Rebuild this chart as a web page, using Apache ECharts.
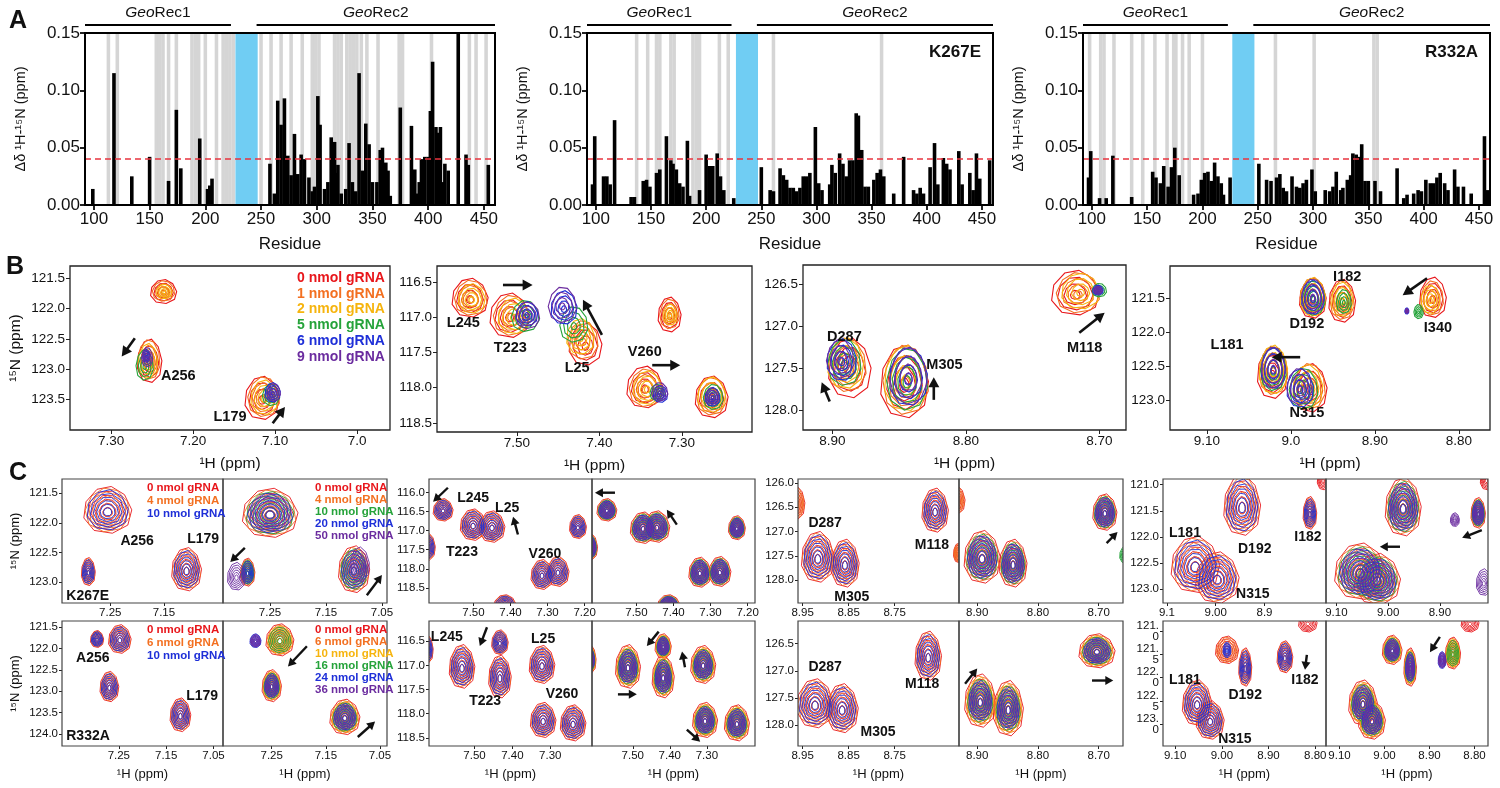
<!DOCTYPE html>
<html>
<head>
<meta charset="utf-8">
<title>GeoCas9 gRNA titration HSQC</title>
<script src="https://cdn.jsdelivr.net/npm/echarts@6/dist/echarts.min.js"></script>
<style>html,body{margin:0;background:#fff}#chart{width:1500px;height:788px}</style>
</head>
<body>
<div id="chart"></div>
<script>
// ---------- panel A : chemical shift perturbation per residue ----------
var residueTicks = ['100', '150', '200', '250', '300', '350', '400', '450'];
var shiftTicks = ['0.00', '0.05', '0.10', '0.15'];
var residueRange = [92, 460];
var loopBand = [227, 247];
var domains = [['Rec1', 92, 223], ['Rec2', 246, 460]];
var cutoffs = [0.043, 0.043, 0.041];
var mutantNames = ['', 'K267E', 'R332A'];

var wtShift = [[99,0.014],[118,0.115],[134,0.025],[150,0.042],[167,0.021],[174,0.083],[178,0.032],[195,0.058],[202,0.014],[204,0.017],[206,0.023],
  [258,0.036],[262,0.010],[265,0.091],[268,0.070],[271,0.093],[274,0.043],[277,0.026],[280,0.062],[283,0.027],[286,0.044],[289,0.040],[293,0.024],[296,0.012],[298,0.016],
  [301,0.095],[303,0.070],[307,0.014],[310,0.020],[313,0.059],[316,0.055],[317,0.028],[319,0.035],[322,0.010],[326,0.014],[329,0.054],[332,0.020],[335,0.012],
  [338,0.115],[341,0.030],[344,0.071],[347,0.053],[350,0.020],[354,0.020],[357,0.048],[359,0.050],[362,0.037],[364,0.030],[366,0.008],[375,0.085],[385,0.069],
  [388,0.031],[390,0.010],[392,0.020],[394,0.040],[397,0.042],[400,0.042],[402,0.082],[404,0.125],[407,0.068],[409,0.063],[411,0.068],[413,0.020],[415,0.036],
  [418,0.030],[427,0.150],[434,0.044],[436,0.035],[454,0.035]];
var wtMissing = [113,121,156,159,162,167,174,188,191,194,200,210,216,219,222,225,250,259,268,277,287,296,299,302,316,319,322,327,330,333,336,340,345,355,374,377,403,437,443,452];

var k267eShift = [[97,0.018],[99,0.060],[107,0.025],[110,0.025],[113,0.018],[117,0.074],[132,0.007],[135,0.007],[143,0.021],[146,0.022],[149,0.016],[155,0.028],
  [158,0.031],[164,0.060],[168,0.039],[170,0.036],[173,0.031],[176,0.019],[179,0.016],[183,0.056],[185,0.008],[194,0.013],[200,0.044],[203,0.034],[206,0.034],
  [210,0.045],[213,0.025],[216,0.013],[225,0.006],[250,0.033],[258,0.013],[261,0.012],[267,0.032],[270,0.026],[273,0.022],[276,0.015],[279,0.015],[282,0.012],
  [285,0.015],[288,0.025],[291,0.025],[294,0.028],[299,0.068],[302,0.019],[305,0.013],[312,0.018],[314,0.035],[317,0.028],[321,0.045],[324,0.036],[327,0.025],
  [330,0.039],[333,0.039],[336,0.080],[338,0.078],[341,0.048],[344,0.016],[347,0.016],[352,0.022],[355,0.028],[358,0.031],[361,0.025],[370,0.010],[379,0.042],
  [388,0.013],[391,0.010],[394,0.015],[397,0.010],[403,0.033],[407,0.054],[410,0.018],[415,0.041],[418,0.036],[421,0.031],[429,0.047],[432,0.018],[439,0.028],
  [442,0.013],[445,0.045],[448,0.023],[457,0.039]];
var k267eMissing = [137,147,155,158,168,171,188,191,194,212,220,261,359];

var r332aShift = [[97,0.024],[99,0.047],[107,0.006],[113,0.006],[119,0.043],[136,0.007],[155,0.029],[158,0.024],[162,0.019],[165,0.034],[169,0.016],[172,0.033],
  [175,0.050],[179,0.026],[192,0.009],[196,0.010],[199,0.022],[202,0.028],[205,0.029],[208,0.021],[211,0.037],[214,0.025],[217,0.019],[219,0.009],[225,0.024],
  [251,0.036],[258,0.022],[262,0.021],[267,0.024],[270,0.027],[273,0.015],[276,0.012],[281,0.025],[285,0.016],[288,0.015],[291,0.019],[294,0.022],[299,0.031],
  [302,0.012],[311,0.013],[315,0.012],[318,0.016],[321,0.029],[325,0.013],[327,0.015],[331,0.022],[334,0.026],[336,0.045],[339,0.044],[341,0.042],[344,0.053],
  [347,0.021],[350,0.021],[356,0.021],[361,0.012],[376,0.032],[382,0.006],[385,0.009],[391,0.010],[395,0.013],[398,0.012],[402,0.022],[406,0.019],[409,0.019],
  [412,0.024],[415,0.028],[419,0.019],[422,0.013],[428,0.031],[431,0.016],[436,0.016],[443,0.010],[455,0.060],[458,0.013]];
var r332aMissing = [98,108,111,120,136,146,157,168,174,176,182,188,200,266,301,355,358];

var aShifts = [wtShift, k267eShift, r332aShift];
var aMissing = [wtMissing, k267eMissing, r332aMissing];

// ---------- titration colours ----------
var RED = '#e8161b', ORG = '#f37021', YEL = '#f6b40e', GRN = '#25a33a', BLU = '#1e2fd8', PUR = '#6b2c9f';
var palettes = {p3: [RED, ORG, BLU], p5: [RED, ORG, GRN, BLU, PUR], p6: [RED, ORG, YEL, GRN, BLU, PUR]};
var bLegend = ['0 nmol gRNA', '1 nmol gRNA', '2 nmol gRNA', '5 nmol gRNA', '6 nmol gRNA', '9 nmol gRNA'];

// ---------- panel B : peaks [x ppm, y ppm, relative size] per titration point ----------
var b1 = {x: [6.96, 7.35], xt: ['7.30', '7.20', '7.10', '7.0'], y: [121.3, 124.0], yt: ['121.5', '122.0', '122.5', '123.0', '123.5'],
  peaks: [
    {r: [0.016, 0.2], at: [[7.236,121.72,1],[7.236,121.71,0.85],[7.235,121.72,0.6],null,null,null]},
    {r: [0.015, 0.36], at: [[7.253,122.86,1],[7.254,122.84,0.92],[7.255,122.86,0.8],[7.259,122.93,0.7],[7.257,122.78,0.3],[7.256,122.8,0.45]]},
    {r: [0.021, 0.36], at: [[7.116,123.47,1],[7.114,123.45,0.92],[7.113,123.46,0.8],[7.105,123.42,0.5],[7.103,123.38,0.45],[7.102,123.38,0.4]]}
  ],
  labels: [['A256', 7.218, 123.11], ['L179', 7.155, 123.79]],
  arrows: [[7.271,122.49,7.287,122.79], [7.103,123.89,7.088,123.62]]};

var b2 = {x: [7.215, 7.597], xt: ['7.50', '7.40', '7.30'], y: [116.27, 118.63], yt: ['116.5', '117.0', '117.5', '118.0', '118.5'],
  peaks: [
    {r: [0.022, 0.28], at: [[7.557,116.72,1],[7.556,116.72,0.9],[7.555,116.73,0.75],null,null,null]},
    {r: [0.024, 0.32], at: [[7.509,116.97,1],[7.507,116.97,0.9],[7.504,116.98,0.8],[7.490,116.98,0.7],[7.488,116.95,0.55],[7.487,116.97,0.6]]},
    {r: [0.02, 0.3], at: [[7.417,117.38,1],[7.420,117.32,0.92],[7.423,117.27,0.85],[7.431,117.10,0.85],[7.443,116.86,0.8],[7.445,116.82,0.85]]},
    {r: [0.014, 0.25], at: [[7.315,116.96,1],[7.315,116.95,0.85],[7.314,116.96,0.6],null,null,null]},
    {r: [0.022, 0.3], at: [[7.345,117.99,1],[7.344,118.0,0.9],[7.342,118.0,0.8],[7.330,118.07,0.4],[7.326,118.09,0.4],[7.327,118.06,0.45]]},
    {r: [0.02, 0.3], at: [[7.264,118.13,1],[7.264,118.12,0.9],[7.264,118.1,0.85],[7.262,118.13,0.6],[7.263,118.13,0.45],[7.263,118.12,0.4]]}
  ],
  labels: [['L245', 7.565, 117.08], ['T223', 7.508, 117.44], ['L25', 7.427, 117.72], ['V260', 7.345, 117.49]],
  arrows: [[7.517,116.54,7.481,116.54], [7.397,117.25,7.420,116.75], [7.336,117.68,7.302,117.68]]};

var b3 = {x: [8.68, 8.922], xt: ['8.90', '8.80', '8.70'], y: [126.27, 128.24], yt: ['126.5', '127.0', '127.5', '128.0'],
  peaks: [
    {r: [0.016, 0.36], at: [[8.887,127.5,1],[8.889,127.46,0.9],[8.890,127.44,0.85],[8.891,127.43,0.78],[8.893,127.40,0.7],[8.894,127.39,0.65]]},
    {r: [0.018, 0.44], at: [[8.846,127.66,1],[8.845,127.64,0.95],[8.845,127.62,0.9],[8.844,127.63,0.85],[8.843,127.6,0.8],[8.843,127.59,0.78]]},
    {r: [0.018, 0.27], at: [[8.718,126.60,1],[8.716,126.60,0.9],[8.714,126.58,0.8],[8.700,126.57,0.3],[8.701,126.57,0.22],[8.701,126.57,0.18]]}
  ],
  labels: [['D287', 8.891, 127.13], ['M305', 8.816, 127.46], ['M118', 8.711, 127.26]],
  arrows: [[8.902,127.90,8.908,127.67], [8.824,127.88,8.824,127.61], [8.715,127.08,8.696,126.84]]};

var b4 = {x: [8.763, 9.144], xt: ['9.10', '9.0', '8.90', '8.80'], y: [121.03, 123.44], yt: ['121.5', '122.0', '122.5', '123.0'],
  peaks: [
    {r: [0.016, 0.3], at: [[8.974,121.5,1],[8.974,121.49,0.95],[8.974,121.48,0.95],[8.973,121.5,0.85],[8.974,121.49,0.85],[8.974,121.47,0.85]]},
    {r: [0.016, 0.32], at: [[8.939,121.54,1],[8.939,121.53,0.9],[8.939,121.52,0.8],[8.937,121.55,0.55],null,null]},
    {r: [0.016, 0.3], at: [[8.831,121.49,1],[8.832,121.5,0.85],[8.834,121.52,0.7],[8.848,121.7,0.35],[8.862,121.69,0.15],[8.862,121.69,0.12]]},
    {r: [0.018, 0.38], at: [[9.022,122.6,1],[9.021,122.56,0.95],[9.021,122.55,0.95],[9.021,122.54,0.85],[9.021,122.53,0.8],[9.021,122.52,0.8]]},
    {r: [0.02, 0.36], at: [[8.977,122.82,1],[8.978,122.8,0.95],[8.980,122.80,0.9],[8.985,122.83,0.85],[8.989,122.82,0.8],[8.990,122.8,0.75]]}
  ],
  labels: [['I182', 8.933, 121.19], ['D192', 8.981, 121.88], ['I340', 8.825, 121.94], ['L181', 9.076, 122.19], ['N315', 8.981, 123.19]],
  arrows: [[8.838,121.21,8.867,121.46], [8.989,122.37,9.023,122.37]]};

var bPanels = [b1, b2, b3, b4];

// ---------- panel C : mutant titrations, peaks [x, y, rx, ry, colour subset] ----------
var cPanels = [
  {x: [7.04, 7.34], xt: ['7.25', '7.15'], y: [121.26, 123.35], yt: ['121.5', '122.0', '122.5', '123.0'], pal: 'p3',
   legend: ['0 nmol gRNA', '4 nmol gRNA', '10 nmol gRNA'],
   peaks: [[7.255,121.78,0.045,0.4],[7.291,122.82,0.013,0.24],[7.108,122.78,0.028,0.37]],
   labels: [['A256',7.20,122.31],['L179',7.077,122.27],['K267E',7.292,123.23]], arrows: []},
  {x: [7.041, 7.334], xt: ['7.25', '7.15', '7.05'], y: [121.26, 123.35], yt: null, pal: 'p5',
   legend: ['0 nmol gRNA', '4 nmol gRNA', '10 nmol gRNA', '20 nmol gRNA', '50 nmol gRNA'],
   peaks: [[7.25,121.83,0.05,0.42],[7.29,122.83,0.013,0.24,[0,1,2,3]],[7.31,122.9,0.022,0.32,[4]],[7.10,122.78,0.028,0.4,[0,1,2,3]],[7.09,122.7,0.024,0.4,[4]]],
   labels: [], arrows: [[7.295,122.42,7.321,122.66],[7.077,123.22,7.050,122.88]]},
  {x: [7.03, 7.37], xt: ['7.25', '7.15', '7.05'], y: [121.36, 124.28], yt: ['121.5', '122.0', '122.5', '123.0', '123.5', '124.0'], pal: 'p3',
   legend: ['0 nmol gRNA', '6 nmol gRNA', '10 nmol gRNA'],
   peaks: [[7.296,121.78,0.014,0.2],[7.248,121.78,0.024,0.34],[7.27,122.89,0.02,0.36],[7.12,123.55,0.022,0.4]],
   labels: [['A256',7.305,122.23],['L179',7.074,123.12],['R332A',7.315,124.04]], arrows: []},
  {x: [7.037, 7.34], xt: ['7.25', '7.15', '7.05'], y: [121.36, 124.28], yt: null, pal: 'p6',
   legend: ['0 nmol gRNA', '6 nmol gRNA', '10 nmol gRNA', '16 nmol gRNA', '24 nmol gRNA', '36 nmol gRNA'],
   peaks: [[7.28,121.82,0.014,0.22,[4,5]],[7.235,121.8,0.026,0.38,[0,1,2,3]],[7.25,122.87,0.018,0.38],[7.115,123.6,0.028,0.42]],
   labels: [], arrows: [[7.185,121.95,7.22,122.42],[7.091,124.07,7.059,123.71]]},

  {x: [7.18, 7.62], xt: ['7.50', '7.40', '7.30', '7.20'], y: [115.64, 118.9], yt: ['116.0', '116.5', '117.0', '117.5', '118.0', '118.5'], pal: 'p3',
   peaks: [[7.582,116.45,0.027,0.3],[7.501,116.84,0.035,0.42],[7.45,116.89,0.035,0.42],[7.218,116.89,0.023,0.32],[7.315,118.15,0.03,0.4],[7.272,118.07,0.03,0.4],[7.415,118.93,0.03,0.25],[7.623,117.42,0.02,0.36]],
   labels: [['L245',7.501,116.14],['L25',7.409,116.40],['T223',7.531,117.57],['V260',7.307,117.62]],
   arrows: [[7.569,115.87,7.609,116.24],[7.38,117.10,7.393,116.63]]},
  {x: [7.18, 7.62], xt: ['7.50', '7.40', '7.30', '7.20'], y: [115.64, 118.9], yt: null, pal: 'p5',
   peaks: [[7.58,116.45,0.027,0.3],[7.482,116.92,0.035,0.42],[7.445,116.89,0.035,0.42],[7.229,116.92,0.023,0.32],[7.329,118.09,0.03,0.4],[7.275,118.07,0.03,0.4],[7.413,118.93,0.03,0.25],[7.625,117.42,0.02,0.36]],
   labels: [], arrows: [[7.558,116.0,7.612,116.0],[7.391,116.84,7.418,116.45]]},
  {x: [7.19, 7.62], xt: ['7.50', '7.40', '7.30'], y: [116.08, 118.67], yt: ['116.5', '117.0', '117.5', '118.0', '118.5'], pal: 'p3',
   peaks: [[7.533,117.02,0.034,0.46],[7.433,116.52,0.022,0.26],[7.433,117.23,0.03,0.45],[7.322,116.98,0.034,0.4],[7.319,118.13,0.034,0.37],[7.24,118.19,0.034,0.38],[7.625,116.66,0.016,0.3]],
   labels: [['L245',7.573,116.41],['L25',7.319,116.46],['T223',7.472,117.75],['V260',7.269,117.6]],
   arrows: [[7.467,116.21,7.486,116.6]]},
  {x: [7.17, 7.61], xt: ['7.50', '7.40', '7.30'], y: [116.08, 118.67], yt: null, pal: 'p6',
   peaks: [[7.513,117.02,0.034,0.46],[7.418,116.6,0.022,0.26],[7.418,117.23,0.03,0.45],[7.31,116.98,0.034,0.4],[7.305,118.13,0.034,0.37],[7.219,118.19,0.034,0.38],[7.615,116.87,0.016,0.3]],
   labels: [], arrows: [[7.43,116.3,7.462,116.6],[7.359,117.04,7.367,116.71],[7.54,117.6,7.489,117.6],[7.354,118.33,7.318,118.58]]},

  {x: [8.61, 8.96], xt: ['8.95', '8.85', '8.75'], y: [125.92, 128.47], yt: ['126.0', '126.5', '127.0', '127.5', '128.0'], pal: 'p3',
   peaks: [[8.917,127.52,0.036,0.53],[8.858,127.65,0.031,0.5],[8.662,126.56,0.029,0.46],[8.965,126.41,0.02,0.35,[0,1]],[8.612,127.44,0.01,0.2,[0,1]]],
   labels: [['D287',8.901,126.83],['M305',8.843,128.35],['M118',8.669,127.28]], arrows: []},
  {x: [8.66, 8.93], xt: ['8.90', '8.80', '8.70'], y: [125.92, 128.47], yt: null, pal: 'p5',
   peaks: [[8.892,127.52,0.03,0.55],[8.841,127.65,0.023,0.5],[8.69,126.6,0.02,0.38],[8.935,126.35,0.015,0.3,[0,1]],[8.657,127.48,0.01,0.2,[2]]],
   labels: [], arrows: [[8.687,127.24,8.669,127.01]]},
  {x: [8.61, 8.96], xt: ['8.95', '8.85', '8.75'], y: [126.08, 128.39], yt: ['126.5', '127.0', '127.5', '128.0'], pal: 'p3',
   peaks: [[8.923,127.6,0.04,0.46],[8.864,127.69,0.035,0.46],[8.677,126.72,0.029,0.46]],
   labels: [['D287',8.901,126.94],['M305',8.786,128.13],['M118',8.69,127.24]], arrows: []},
  {x: [8.66, 8.93], xt: ['8.90', '8.80', '8.70'], y: [126.08, 128.39], yt: null, pal: 'p6',
   peaks: [[8.895,127.55,0.026,0.5],[8.849,127.69,0.025,0.52],[8.703,126.63,0.03,0.32]],
   labels: [], arrows: [[8.92,127.24,8.9,126.96],[8.711,127.18,8.676,127.18]]},

  {x: [8.774, 9.108], xt: ['9.1', '9.00', '8.9'], y: [120.89, 123.27], yt: ['121.0', '121.5', '122.0', '122.5', '123.0'], pal: 'p3',
   peaks: [[8.946,121.39,0.038,0.59],[8.807,121.54,0.014,0.32],[9.042,122.53,0.05,0.55],[8.997,122.78,0.045,0.5],[8.78,120.9,0.012,0.2,[0]]],
   labels: [['L181',9.063,121.92],['D192',8.92,122.24],['I182',8.811,122.01],['N315',8.924,123.1]], arrows: []},
  {x: [8.807, 9.12], xt: ['9.10', '9.00', '8.90'], y: [120.89, 123.27], yt: null, pal: 'p5',
   peaks: [[8.971,121.42,0.035,0.57],[8.826,121.54,0.014,0.3],[8.871,121.67,0.012,0.18,[4]],[9.054,122.66,0.05,0.55],[9.021,122.81,0.045,0.5],[8.815,122.87,0.02,0.35,[4]],[8.81,120.9,0.012,0.2,[0]]],
   labels: [], arrows: [[8.977,122.19,9.016,122.19],[8.819,121.87,8.857,122.02]]},
  {x: [8.777, 9.126], xt: ['9.10', '9.00', '8.90', '8.80'], y: [120.78, 123.47], yt: ['121.\n0', '121.\n5', '122.\n0', '122.\n5', '123.\n0'], pal: 'p3',
   peaks: [[8.989,121.4,0.025,0.3,[0,1]],[8.989,121.4,0.01,0.2,[2]],[8.95,121.77,0.014,0.42],[8.865,121.55,0.017,0.35],[9.053,122.54,0.032,0.5],[9.025,122.91,0.03,0.42],[8.816,120.82,0.02,0.2,[0]]],
   labels: [['L181',9.079,122.05],['D192',8.95,122.37],['I182',8.822,122.05],['N315',8.972,123.32]], arrows: [[8.818,121.51,8.822,121.83]]},
  {x: [8.77, 9.13], xt: ['9.10', '9.00', '8.90', '8.80'], y: [120.78, 123.47], yt: null, pal: 'p6',
   peaks: [[8.983,121.4,0.022,0.32],[8.943,121.77,0.014,0.42],[8.872,121.62,0.012,0.25,[4,5]],[8.848,121.47,0.017,0.35,[0,1,2,3]],[8.81,120.82,0.02,0.2,[0]],[9.048,122.54,0.032,0.5],[9.028,122.91,0.03,0.42]],
   labels: [], arrows: [[8.877,121.12,8.899,121.45]]}
];

// ---------- layout (pixels) ----------
var FONT = '"Liberation Sans", Arial, "Noto Sans", sans-serif';
var HX = '¹H (ppm)', NY = '¹⁵N (ppm)';
var aBoxes = [[85, 33, 410, 172], [587, 33, 406, 172], [1083, 33, 407, 172]];
var bBoxes = [[70, 266, 320, 164], [437, 266, 315, 166], [803, 265, 323, 165], [1170, 266, 320, 164]];
var cLeft = [[62, 223], [429, 592], [798, 959], [1163, 1326]];
var cWidth = [[161, 164], [163, 163], [161, 164], [163, 162]];
var cTop = [479, 621], cHeight = [124, 125];
var colourSteps = [1, 0.93, 0.86, 0.8, 0.74, 0.68];

var grids = [], xAxes = [], yAxes = [], series = [], graphics = [];

function addGrid(b) {
  grids.push({left: b[0], top: b[1], width: b[2], height: b[3], containLabel: false, outerBoundsMode: 'none'});
  return grids.length - 1;
}

function makeAxis(gi, range, ticks, o) {
  var t = ticks || [];
  var vals = t.map(function (s) { return Number(s.replace('\n', '')); });
  return {
    type: 'value', gridIndex: gi, min: range[0], max: range[1], inverse: !!o.inverse,
    axisLine: {show: false}, splitLine: {show: false}, minorTick: {show: false},
    axisTick: {show: !!ticks, inside: false, length: o.tick || 4, customValues: vals,
      lineStyle: {color: '#222', width: o.tickW || 1}},
    axisLabel: {show: !!ticks, customValues: vals, fontSize: o.fs, color: '#111', fontFamily: FONT,
      margin: o.margin || 5, lineHeight: o.lh || o.fs,
      formatter: function (v) {
        for (var i = 0; i < vals.length; i++) if (Math.abs(vals[i] - v) < 1e-6) return t[i];
        return '';
      }},
    name: o.name || '', nameLocation: 'middle', nameGap: o.gap || 20,
    nameTextStyle: {fontSize: o.nfs || o.fs, color: '#111', fontFamily: FONT}
  };
}

function frameSeries(gi, lw, col) {
  return {type: 'custom', xAxisIndex: gi, yAxisIndex: gi, silent: true, z: 20, data: [[0, 0]],
    renderItem: function (params) {
      var cs = params.coordSys;
      return {type: 'rect', shape: {x: cs.x, y: cs.y, width: cs.width, height: cs.height},
        style: {fill: 'none', stroke: col, lineWidth: lw}};
    }};
}

function ringPoints(cx, cy, rx, ry, tilt) {
  var pts = [], n = 9;
  for (var j = 0; j < n; j++) {
    var t = 2 * Math.PI * j / n + tilt;
    var bulge = 1 + 0.14 * Math.sin(t);
    pts.push([cx + rx * Math.cos(t) * bulge, cy + ry * Math.sin(t)]);
  }
  return pts;
}

function contourSeries(gi, items, pal, levels, lw) {
  items.sort(function (a, b) { return a.ci - b.ci; });
  return {type: 'custom', xAxisIndex: gi, yAxisIndex: gi, silent: true, clip: true, z: 5,
    data: items.map(function (d) { return [d.x, d.y]; }),
    renderItem: function (params, api) {
      var d = items[params.dataIndex];
      var c = api.coord([d.x, d.y]);
      var s = api.size([d.rx, d.ry]);
      var rx = Math.abs(s[0]), ry = Math.abs(s[1]);
      var kids = [];
      for (var k = 0; k < levels; k++) {
        var f = 1 - k * 0.8 / (levels - 1);
        kids.push({type: 'polygon',
          shape: {points: ringPoints(c[0], c[1] + (1 - f) * ry * 0.12, rx * f, ry * f, d.ci * 0.33 + k * 0.1)},
          style: {fill: 'none', stroke: pal[d.ci], lineWidth: lw}});
      }
      var cs = params.coordSys;
      return {type: 'group', children: kids,
        clipPath: {type: 'rect', shape: {x: cs.x, y: cs.y, width: cs.width, height: cs.height}}};
    }};
}

function labelSeries(gi, labels, fs) {
  return {type: 'custom', xAxisIndex: gi, yAxisIndex: gi, silent: true, z: 15,
    data: labels.map(function (l) { return [l[1], l[2]]; }),
    renderItem: function (params, api) {
      var l = labels[params.dataIndex];
      var p = api.coord([l[1], l[2]]);
      return {type: 'text', x: p[0], y: p[1],
        style: {text: l[0], fill: '#111', fontSize: fs, fontWeight: 'bold', fontFamily: FONT,
          align: 'center', verticalAlign: 'middle', textAlign: 'center', textVerticalAlign: 'middle'}};
    }};
}

function arrowSeries(gi, arrows, lw, head, half) {
  return {type: 'custom', xAxisIndex: gi, yAxisIndex: gi, silent: true, z: 16,
    data: arrows.map(function (a) { return [a[0], a[1]]; }),
    renderItem: function (params, api) {
      var a = arrows[params.dataIndex];
      var p1 = api.coord([a[0], a[1]]), p2 = api.coord([a[2], a[3]]);
      var dx = p2[0] - p1[0], dy = p2[1] - p1[1], L = Math.sqrt(dx * dx + dy * dy) || 1;
      var ux = dx / L, uy = dy / L, bx = p2[0] - ux * head, by = p2[1] - uy * head;
      return {type: 'group', children: [
        {type: 'line', shape: {x1: p1[0], y1: p1[1], x2: bx + ux, y2: by + uy}, style: {stroke: '#111', lineWidth: lw}},
        {type: 'polygon', shape: {points: [[p2[0], p2[1]], [bx - uy * half, by + ux * half], [bx + uy * half, by - ux * half]]},
          style: {fill: '#111'}}
      ]};
    }};
}

function text(x, y, str, font, fill, align) {
  graphics.push({type: 'text', x: x, y: y, silent: true, z: 30,
    style: {text: str, font: font, fill: fill || '#111', align: align || 'left', verticalAlign: 'middle',
      textAlign: align || 'left', textVerticalAlign: 'middle'}});
}

// ---------- build panel A ----------
aBoxes.forEach(function (b, i) {
  var gi = addGrid(b);
  xAxes.push(makeAxis(gi, residueRange, residueTicks, {fs: 17, tick: 5, tickW: 2, margin: 6, name: 'Residue', gap: 31, nfs: 17}));
  yAxes.push(makeAxis(gi, [0, 0.15], shiftTicks, {fs: 17, tick: 5, tickW: 2, margin: 5, name: 'Δδ ¹H-¹⁵N (ppm)', gap: 57, nfs: 14.5}));
  var miss = aMissing[i];
  series.push({type: 'custom', xAxisIndex: gi, yAxisIndex: gi, silent: true, z: 1,
    data: miss.map(function (r) { return [r, 0.15]; }),
    renderItem: function (params, api) {
      var r = api.value(0);
      var p0 = api.coord([r - 1.6, 0.15]), p1 = api.coord([r + 1.6, 0]);
      return {type: 'rect', shape: {x: p0[0], y: p0[1], width: p1[0] - p0[0], height: p1[1] - p0[1]}, style: {fill: '#d5d5d5'}};
    }});
  series.push({type: 'bar', xAxisIndex: gi, yAxisIndex: gi, data: aShifts[i], barWidth: 3.6, z: 3, silent: true,
    itemStyle: {color: '#000'},
    markArea: {silent: true, itemStyle: {color: '#70cdf3'}, data: [[{xAxis: loopBand[0]}, {xAxis: loopBand[1]}]]},
    markLine: {silent: true, symbol: ['none', 'none'], label: {show: false}, z: 6,
      lineStyle: {color: '#e8343f', type: [6, 4], width: 1.5}, data: [{yAxis: cutoffs[i]}]}});
  series.push({type: 'custom', xAxisIndex: gi, yAxisIndex: gi, silent: true, z: 5,
    data: domains.map(function (d) { return [d[1], 0.15]; }),
    renderItem: function (params, api) {
      var d = domains[params.dataIndex];
      var x1 = api.coord([d[1], 0])[0], x2 = api.coord([d[2], 0])[0], y = params.coordSys.y;
      return {type: 'group', children: [
        {type: 'line', shape: {x1: x1, y1: y - 8, x2: x2, y2: y - 8}, style: {stroke: '#000', lineWidth: 2}},
        {type: 'text', x: (x1 + x2) / 2, y: y - 20,
          style: {text: '{i|Geo}' + d[0], fill: '#111', fontSize: 15.5, fontFamily: FONT,
            rich: {i: {fontStyle: 'italic', fontSize: 15.5, fontFamily: FONT, fill: '#111'}},
            align: 'center', verticalAlign: 'middle', textAlign: 'center', textVerticalAlign: 'middle'}}
      ]};
    }});
  series.push(frameSeries(gi, 2, '#000'));
  if (mutantNames[i]) text(b[0] + b[2] - 12, b[1] + 19, mutantNames[i], 'bold 17px ' + FONT, '#111', 'right');
});

// ---------- build panel B ----------
bPanels.forEach(function (p, j) {
  var b = bBoxes[j];
  var gi = addGrid(b);
  xAxes.push(makeAxis(gi, p.x, p.xt, {inverse: true, fs: 13.5, tick: 4, name: HX, gap: 26, nfs: 15.5}));
  yAxes.push(makeAxis(gi, p.y, p.yt, {inverse: true, fs: 13.5, tick: 4, name: j === 0 ? NY : '', gap: 46, nfs: 15.5}));
  var pal = palettes.p6, items = [];
  p.peaks.forEach(function (pk) {
    pk.at.forEach(function (a, ci) {
      if (a) items.push({x: a[0], y: a[1], rx: pk.r[0] * a[2], ry: pk.r[1] * a[2], ci: ci});
    });
  });
  series.push(contourSeries(gi, items, pal, 4, 1.1));
  series.push(labelSeries(gi, p.labels, 14.5));
  series.push(arrowSeries(gi, p.arrows, 2.6, 10, 5.5));
  series.push(frameSeries(gi, 1.3, '#222'));
});
bLegend.forEach(function (s, i) {
  text(bBoxes[0][0] + 227, bBoxes[0][1] + 12 + i * 15.8, s, 'bold 14px ' + FONT, palettes.p6[i]);
});

// ---------- build panel C ----------
cPanels.forEach(function (p, k) {
  var g = Math.floor(k / 4), row = Math.floor((k % 4) / 2), side = k % 2;
  var b = [cLeft[g][side], cTop[row], cWidth[g][side], cHeight[row]];
  var gi = addGrid(b);
  xAxes.push(makeAxis(gi, p.x, p.xt, {inverse: true, fs: 11.5, tick: 3, margin: 4, name: row === 1 ? HX : '', gap: 22, nfs: 13}));
  yAxes.push(makeAxis(gi, p.y, p.yt, {inverse: true, fs: 11.5, tick: 3, margin: 4, lh: 11,
    name: (g === 0 && side === 0) ? NY : '', gap: 40, nfs: 13}));
  var pal = palettes[p.pal], items = [];
  p.peaks.forEach(function (pk) {
    var cols = pk[4] || pal.map(function (c, i) { return i; });
    cols.forEach(function (ci) {
      items.push({x: pk[0], y: pk[1], rx: pk[2] * colourSteps[ci], ry: pk[3] * colourSteps[ci], ci: ci});
    });
  });
  series.push(contourSeries(gi, items, pal, 6, 0.9));
  series.push(labelSeries(gi, p.labels, 14));
  series.push(arrowSeries(gi, p.arrows, 2.4, 8, 4.5));
  series.push(frameSeries(gi, 1.2, '#444'));
  if (p.legend) {
    var lx = b[0] + (side === 0 ? 85 : 92);
    var step = p.legend.length > 3 ? 12 : 13;
    p.legend.forEach(function (s, i) {
      text(lx, b[1] + 9 + i * step, s, 'bold 11.5px ' + FONT, pal[i]);
    });
  }
});

// panel letters
text(9, 21, 'A', 'bold 25px ' + FONT);
text(6, 267, 'B', 'bold 25px ' + FONT);
text(9, 473, 'C', 'bold 25px ' + FONT);

var chart = echarts.init(document.getElementById('chart'), null, {renderer: 'canvas', width: 1500, height: 788});
chart.setOption({
  backgroundColor: '#fff',
  animation: false,
  grid: grids,
  xAxis: xAxes,
  yAxis: yAxes,
  series: series,
  graphic: {elements: graphics}
});
</script>
</body>
</html>
